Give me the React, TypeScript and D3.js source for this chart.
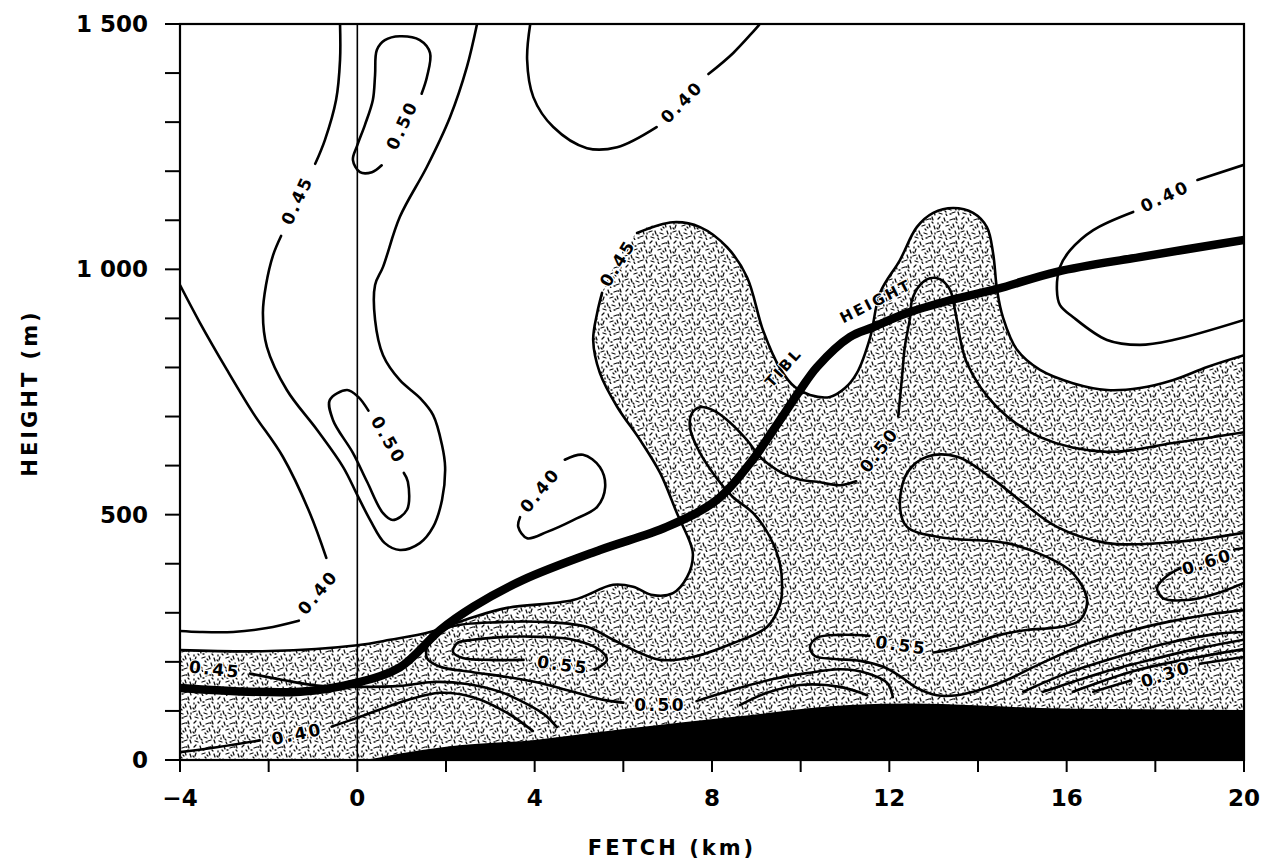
import React from 'react';
import * as d3 from 'd3';

type P = [number, number];

const xTicksMajor = [-4, 0, 4, 8, 12, 16, 20];
const xTickLabels = ['−4', '0', '4', '8', '12', '16', '20'];
const xTicksMinor = [-2, 2, 6, 10, 14, 18];
const yTicksMajor = [0, 500, 1000, 1500];
const yTickLabels = ['0', '500', '1 000', '1 500'];
const yTicksMinor = [100, 200, 300, 400, 600, 700, 800, 900, 1100, 1200, 1300, 1400];

// ground (terrain) height, m
const terrain: P[] = [[-4, 0], [0, 0], [1, 14], [2, 27], [4, 41], [6.2, 65], [8.5, 88], [11.1, 112], [12.5, 115], [13.2, 114], [14.3, 110], [15.4, 106], [17, 104], [20, 102]];

// thermal internal boundary layer height
const tibl: P[] = [[-4, 147], [-1.29, 139], [-0.03, 157], [0.96, 189], [1.87, 265], [2.61, 312], [3.74, 367], [5.47, 428], [6.98, 475], [8.11, 530], [8.86, 605], [9.38, 672], [9.99, 754], [10.37, 801], [11.11, 862], [11.63, 882], [12.4, 911], [13.37, 937], [14.43, 960], [15.78, 995], [17.65, 1025], [20, 1060]];

// 0.45 contour bounding the stippled region (two segments, gap at label)
const shaded45A: P[] = [[-4, 224], [-1.97, 222], [0, 234], [0.74, 245], [1.64, 261], [2.61, 291], [3.38, 310], [4.87, 326], [5.77, 357], [6.22, 353], [6.67, 336], [7.12, 340], [7.44, 373], [7.57, 418], [7.51, 442], [7.21, 503], [6.83, 585], [6.38, 652], [5.86, 720], [5.47, 789], [5.32, 856], [5.41, 911], [5.52, 952]];
const shaded45B: P[] = [[6.31, 1074], [7.12, 1096], [7.73, 1086], [8.34, 1045], [8.79, 984], [9.15, 876], [9.53, 799], [9.87, 760], [10.21, 744], [10.66, 740], [11.0, 758], [11.27, 789], [11.57, 862], [11.79, 952], [12.24, 1019], [12.62, 1086], [12.99, 1115], [13.44, 1125], [13.89, 1115], [14.2, 1086], [14.34, 1033], [14.43, 958], [14.56, 903], [14.88, 836], [15.4, 795], [16.14, 768], [16.91, 754], [17.65, 758], [18.39, 774], [19.17, 801], [20, 825]];

// 0.45 U-shaped contour, upper left
const c45Upper1: P[] = [[-0.39, 1500], [-0.39, 1427], [-0.48, 1345], [-0.73, 1264], [-0.95, 1215]];
const c45Upper2: P[] = [[-1.72, 1068], [-1.9, 1029], [-2.06, 968], [-2.13, 911], [-2.04, 842], [-1.59, 754], [-0.91, 673], [-0.32, 597], [0, 540], [0.29, 489], [0.62, 442], [0.96, 428], [1.41, 442], [1.71, 475], [1.91, 530], [1.98, 597], [1.91, 642], [1.71, 703], [1.41, 738], [0.96, 774], [0.58, 825], [0.4, 897], [0.4, 968], [0.58, 1005], [0.96, 1107], [1.57, 1209], [2.09, 1310], [2.47, 1412], [2.7, 1500]];

// 0.50 loops inside it
const c50Top: P[] = [[1.45, 1358], [1.57, 1392], [1.64, 1441], [1.41, 1467], [0.96, 1475], [0.62, 1467], [0.44, 1447], [0.4, 1396], [0.35, 1345], [0.17, 1294], [0, 1253], [-0.1, 1223], [0.06, 1198], [0.33, 1198], [0.55, 1212]];
const c50Mid: P[] = [[1.05, 585], [1.14, 567], [1.12, 510], [0.8, 489], [0.58, 503], [0.22, 567], [-0.1, 626], [-0.55, 693], [-0.62, 734], [-0.23, 754], [0.02, 740], [0.25, 712]];

// 0.40 contours
const c40TopMid1: P[] = [[3.9, 1500], [3.83, 1427], [3.97, 1351], [4.42, 1290], [5.18, 1247], [5.86, 1249], [6.75, 1290]];
const c40TopMid2: P[] = [[7.92, 1398], [8.48, 1441], [9.08, 1500]];
const c40Right1: P[] = [[20, 1213], [18.95, 1182]];
const c40Right2: P[] = [[17.5, 1117], [16.6, 1080], [16.08, 1039], [15.85, 1005], [15.78, 958], [15.85, 927], [16.14, 903], [16.91, 856], [17.65, 846], [18.4, 856], [20, 897]];
const c40Left1: P[] = [[-4, 968], [-3.55, 891], [-2.94, 795], [-2.35, 707], [-1.68, 618], [-1.07, 503], [-0.7, 412]];
const c40Left2: P[] = [[-1.32, 284], [-2.04, 269], [-2.8, 261], [-3.55, 261], [-4, 263]];
const c40Small: P[] = [[4.68, 612], [5.09, 622], [5.47, 597], [5.59, 556], [5.41, 516], [4.87, 489], [4.28, 465], [3.83, 452], [3.63, 475], [3.67, 495]];
const c40Low1: P[] = [[-4, 16], [-3.17, 26], [-2.2, 40]];
const c40Low2: P[] = [[-0.58, 68], [0, 86], [1.12, 122], [1.87, 137], [2.61, 128], [3.38, 96], [3.96, 59]];

// lower 0.45 lines
const c45Low: P[] = [[-2.42, 176], [-1.68, 163], [-0.84, 151], [0, 149], [0.96, 151], [1.71, 159], [2.47, 155], [3.22, 139], [3.83, 114], [4.23, 92], [4.5, 67]];
const c45Low2: P[] = [[8.63, 112], [9.24, 137], [9.99, 153], [10.89, 149], [11.5, 132]];

// big 0.50 contour
const c50Big1: P[] = [[20, 668], [18.4, 646], [16.91, 628], [15.4, 658], [14.43, 719], [13.75, 809], [13.48, 917], [13.37, 958], [13.14, 980], [12.92, 982], [12.69, 968], [12.51, 937], [12.47, 903], [12.35, 842], [12.28, 774], [12.2, 700]];
const c50Big2: P[] = [[11.25, 568], [10.89, 560], [10.37, 567], [9.99, 571], [9.47, 591], [9.08, 618], [8.79, 652], [8.34, 693], [8.02, 713], [7.73, 719], [7.55, 707], [7.5, 679], [7.66, 638], [8.02, 585], [8.47, 536], [8.93, 503], [9.31, 454], [9.53, 401], [9.58, 346], [9.53, 316], [9.24, 271], [8.47, 238], [7.57, 210], [6.83, 204], [6.38, 218], [5.77, 245], [5.19, 271], [4.28, 281], [3.22, 281], [2.09, 271], [1.64, 245], [1.57, 208], [1.87, 190], [2.61, 179], [3.38, 169], [4.12, 157], [4.87, 139], [5.59, 122], [6.0, 117]];
const c50Big3: P[] = [[7.65, 120], [8.47, 143], [9.38, 165], [10.14, 177], [10.89, 185], [11.5, 177], [11.95, 157], [12.08, 128]];

// 0.55 contours
const c55Left1: P[] = [[3.75, 204], [2.99, 204], [2.38, 208], [2.16, 220], [2.25, 238], [2.61, 245], [3.38, 251], [4.12, 251], [4.87, 245], [5.47, 224], [5.63, 204], [5.47, 190], [5.35, 184]];
const c55Right1: P[] = [[20, 463], [18.4, 444], [16.91, 442], [15.78, 475], [15.02, 524], [14.27, 577], [13.53, 618], [12.85, 618], [12.4, 585], [12.24, 516], [12.4, 475], [13.14, 454], [14.65, 442], [15.55, 414], [16.14, 381], [16.46, 326], [16.3, 285], [15.85, 271], [15.1, 265], [14.49, 255], [13.53, 228], [13.0, 219]];
const c55Right2: P[] = [[11.55, 253], [10.89, 255], [10.37, 249], [10.21, 230], [10.32, 212], [10.77, 206], [11.34, 202], [11.86, 190], [12.24, 171], [12.62, 147], [13.07, 132], [13.53, 132], [14.05, 143], [14.65, 163], [15.4, 196], [16.37, 234], [17.5, 265], [18.26, 281], [19.17, 296], [20, 306]];

// 0.60 loop
const c60a: P[] = [[20, 432], [19.78, 429]];
const c60b: P[] = [[18.6, 392], [18.26, 375], [18.04, 351], [18.17, 330], [18.72, 326], [19.4, 340], [20, 361]];

// lower-right stack of lines down to 0.30
const cR2: P[] = [[15.02, 139], [16.01, 177], [17.14, 210], [18.26, 238], [19.39, 257], [20, 261]];
const cR3: P[] = [[15.47, 139], [16.75, 177], [17.88, 204], [19.01, 228], [20, 245]];
const cR4: P[] = [[16.14, 139], [17.5, 181], [18.63, 204], [20, 226]];
const c30a: P[] = [[16.6, 139], [17.45, 162]];
const c30b: P[] = [[19.0, 196], [20, 210]];

const contourSegments: P[][] = [
  shaded45A, shaded45B, c45Upper1, c45Upper2, c50Top, c50Mid,
  c40TopMid1, c40TopMid2, c40Right1, c40Right2, c40Left1, c40Left2, c40Small, c40Low1, c40Low2,
  c45Low, c45Low2, c50Big1, c50Big2, c50Big3, c55Left1, c55Right1, c55Right2,
  c60a, c60b, cR2, cR3, cR4, c30a, c30b,
];

// contour labels: text, x (km), y (m), rotation (deg)
const labelTexts = ['0.45', '0.50', '0.40', '0.40', '0.45', '0.50', '0.40', '0.40', '0.50', '0.45', '0.40', '0.55', '0.50', '0.55', '0.60', '0.30'];
const labelX = [-1.36, 1.01, 7.32, 18.22, 5.87, 0.7, -0.89, 4.12, 11.77, -3.21, -1.36, 4.64, 6.83, 12.27, 19.17, 18.24];
const labelY = [1141, 1294, 1341, 1149, 1013, 652, 342, 550, 632, 185, 53, 194, 112, 234, 404, 175];
const labelRot = [-65, -65, -45, -25, -58, 60, -50, -50, -52, 6, -12, 8, 0, 8, -18, -18];

const tiblLabels = ['TIBL', 'HEIGHT'];
const tiblLabelX = [9.62, 11.7];
const tiblLabelY = [800, 935];
const tiblLabelRot = [-48, -27];

// stipple texture strokes in a 24x24 tile
const stippleMarks = [
  [2, 3, 4, 1], [8, 2, 9, 5], [14, 4, 17, 3], [20, 1, 21, 4], [4, 9, 3, 12], [10, 10, 13, 9],
  [17, 8, 18, 11], [22, 10, 23, 13], [1, 16, 4, 15], [7, 15, 8, 18], [12, 17, 15, 18], [19, 15, 20, 18],
  [3, 21, 6, 22], [10, 22, 11, 24], [16, 21, 19, 20], [22, 20, 23, 23], [6, 6, 7, 7], [13, 13, 14, 14],
  [20, 6, 21, 7], [1, 12, 2, 13], [15, 11, 16, 12], [9, 19, 10, 20], [5, 18, 5, 19], [18, 3, 19, 3],
  [11, 6, 12, 6], [23, 17, 23, 18], [2, 7, 2, 8], [14, 22, 15, 22],
];

const FONT = '"DejaVu Sans", Verdana, sans-serif';

export default function App() {
  const x = d3.scaleLinear().domain([-4, 20]).range([180, 1244]);
  const y = d3.scaleLinear().domain([0, 1500]).range([760, 24]);
  const line = d3.line<P>().x(d => x(d[0])).y(d => y(d[1])).curve(d3.curveCatmullRom.alpha(0.5));
  const shadedPath = (line([...shaded45A, ...shaded45B]) as string) + `L${x(20)},${y(0)}L${x(-4)},${y(0)}Z`;
  const ground = d3.area<P>().x(d => x(d[0])).y0(y(0)).y1(d => y(d[1])).curve(d3.curveMonotoneX)(terrain) as string;
  const x0 = x.range()[0], x1 = x.range()[1], yTop = y.range()[1], yBot = y.range()[0];

  return (
    <svg width={1268} height={863} style={{ position: 'absolute', left: 0, top: 0, background: '#fff' }} fontFamily={FONT}>
      <defs>
        <pattern id="stip" width={24} height={24} patternUnits="userSpaceOnUse">
          {stippleMarks.map((m, i) => (
            <line key={i} x1={m[0]} y1={m[1]} x2={m[2]} y2={m[3]} stroke="#111" strokeWidth={1.3} strokeLinecap="round" />
          ))}
        </pattern>
        <clipPath id="plot">
          <rect x={x0} y={yTop} width={x1 - x0} height={yBot - yTop} />
        </clipPath>
      </defs>
      <g clipPath="url(#plot)">
        <path d={shadedPath} fill="url(#stip)" />
        <path d={ground} fill="#000" />
        <line x1={x(0)} x2={x(0)} y1={yTop} y2={yBot} stroke="#000" strokeWidth={1.6} />
        {contourSegments.map((s, i) => (
          <path key={i} d={line(s) as string} fill="none" stroke="#000" strokeWidth={2.6} strokeLinecap="round" strokeLinejoin="round" />
        ))}
        <path d={line(tibl) as string} fill="none" stroke="#000" strokeWidth={8.5} strokeLinecap="butt" />
      </g>
      {labelTexts.map((t, i) => (
        <text key={i} transform={`translate(${x(labelX[i])},${y(labelY[i])}) rotate(${labelRot[i]})`}
          textAnchor="middle" dominantBaseline="central" fontSize={17} fontWeight="bold" letterSpacing={2.5}
          stroke="#fff" strokeWidth={2.5} paintOrder="stroke" fill="#000">{t}</text>
      ))}
      {tiblLabels.map((t, i) => (
        <text key={t} transform={`translate(${x(tiblLabelX[i])},${y(tiblLabelY[i])}) rotate(${tiblLabelRot[i]})`}
          textAnchor="middle" dominantBaseline="central" fontSize={15} fontWeight="bold" letterSpacing={2.5}
          stroke="#fff" strokeWidth={2} paintOrder="stroke" fill="#000">{t}</text>
      ))}
      <rect x={x0} y={yTop} width={x1 - x0} height={yBot - yTop} fill="none" stroke="#000" strokeWidth={2.2} />
      {xTicksMajor.concat(xTicksMinor).map(v => (
        <line key={'xt' + v} x1={x(v)} x2={x(v)} y1={yBot} y2={yBot + 12} stroke="#000" strokeWidth={2} />
      ))}
      {yTicksMajor.concat(yTicksMinor).map(v => (
        <line key={'yt' + v} x1={x0 - 15} x2={x0} y1={y(v)} y2={y(v)} stroke="#000" strokeWidth={2} />
      ))}
      {xTicksMajor.map((v, i) => (
        <text key={'xl' + v} x={x(v)} y={798} textAnchor="middle" dominantBaseline="central" fontSize={23} fontWeight="bold">{xTickLabels[i]}</text>
      ))}
      {yTicksMajor.map((v, i) => (
        <text key={'yl' + v} x={148} y={y(v)} textAnchor="end" dominantBaseline="central" fontSize={23} fontWeight="bold">{yTickLabels[i]}</text>
      ))}
      <text x={672} y={848} textAnchor="middle" dominantBaseline="central" fontSize={21} fontWeight="bold" letterSpacing={3}>FETCH (km)</text>
      <text transform="translate(30,393) rotate(-90)" textAnchor="middle" dominantBaseline="central" fontSize={21} fontWeight="bold" letterSpacing={3}>HEIGHT (m)</text>
    </svg>
  );
}
